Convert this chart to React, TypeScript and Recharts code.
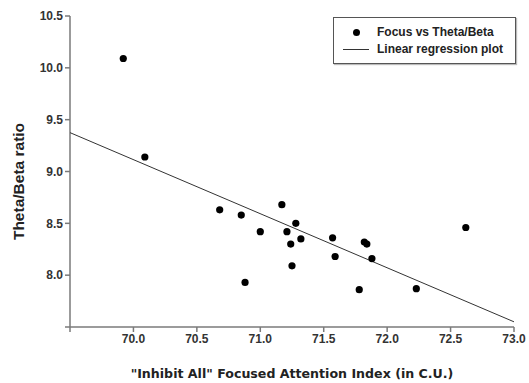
import React from 'react';
import { ScatterChart, Scatter, XAxis, YAxis, Legend, Label } from 'recharts';

// Focused attention index vs theta/beta ratio, one entry per subject
const focusIndex = [
  69.92, 70.09, 70.68, 70.85, 71.0, 70.88, 71.17, 71.28, 71.21, 71.32,
  71.24, 71.25, 71.57, 71.59, 71.82, 71.84, 71.88, 71.78, 72.23, 72.62,
];
const thetaBeta = [
  10.09, 9.14, 8.63, 8.58, 8.42, 7.93, 8.68, 8.5, 8.42, 8.35,
  8.3, 8.09, 8.36, 8.18, 8.32, 8.3, 8.16, 7.86, 7.87, 8.46,
];

// Fitted regression line end points
const fitX = [69.5, 73.0];
const fitY = [9.375, 7.55];

const xTicks = [69.5, 70.0, 70.5, 71.0, 71.5, 72.0, 72.5, 73.0];
const yTicks = [7.5, 8.0, 8.5, 9.0, 9.5, 10.0, 10.5];

const points = focusIndex.map((x, i) => ({ x, y: thetaBeta[i] }));
const fitLine = fitX.map((x, i) => ({ x, y: fitY[i] }));

const FONT = '"Liberation Sans", Arial, sans-serif';
const WIDE_FONT = '"DejaVu Sans", Verdana, sans-serif';
const AXIS_COLOR = '#7a7a7a';

const tickStyle = { fontFamily: FONT, fontSize: 12, fontWeight: 700, fill: '#333' };

const Dot = (props: any) => <circle cx={props.cx} cy={props.cy} r={3.6} fill="#000" />;

const renderLegend = () => (
  <div
    style={{
      border: '1.5px solid #555',
      boxShadow: '1px 1px 1px #bbb',
      padding: '6px 8px 5px 9px',
      fontFamily: FONT,
      fontSize: 12,
      fontWeight: 700,
      color: '#222',
      lineHeight: '17px',
      background: '#fff',
    }}
  >
    <div style={{ display: 'flex', alignItems: 'center' }}>
      <span style={{ width: 26, display: 'inline-flex', justifyContent: 'center', marginRight: 8 }}>
        <span style={{ width: 7, height: 7, borderRadius: '50%', background: '#000' }} />
      </span>
      Focus vs Theta/Beta
    </div>
    <div style={{ display: 'flex', alignItems: 'center' }}>
      <span style={{ width: 26, height: 1, background: '#333', marginRight: 8 }} />
      Linear regression plot
    </div>
  </div>
);

export default function App() {
  return (
    <div style={{ position: 'absolute', left: 0, top: 0, background: '#fff' }}>
      <ScatterChart width={529} height={383} margin={{ top: 16, right: 15, bottom: 0, left: 0 }}>
        <XAxis
          type="number"
          dataKey="x"
          domain={[69.5, 73.0]}
          ticks={xTicks}
          tickFormatter={(v: number) => (v === 69.5 ? '' : v.toFixed(1))}
          tick={tickStyle}
          stroke={AXIS_COLOR}
          strokeWidth={1.5}
          tickSize={5}
          height={56}
          allowDataOverflow
        >
          <Label
            value={'"Inhibit All" Focused Attention Index (in C.U.)'}
            position="insideBottom"
            offset={5}
            style={{ fontFamily: WIDE_FONT, fontSize: 12.6, fontWeight: 700, fill: '#222' }}
          />
        </XAxis>
        <YAxis
          type="number"
          dataKey="y"
          domain={[7.5, 10.5]}
          ticks={yTicks}
          tickFormatter={(v: number) => (v === 7.5 ? '' : v.toFixed(1))}
          tick={tickStyle}
          stroke={AXIS_COLOR}
          strokeWidth={1.5}
          tickSize={5}
          width={70}
          allowDataOverflow
        >
          <Label
            content={(p: any) => {
              const vb = p.viewBox;
              const cx = 18;
              const cy = vb.y + vb.height / 2 + 10;
              return (
                <text
                  x={cx}
                  y={cy}
                  transform={`rotate(-90 ${cx} ${cy})`}
                  textAnchor="middle"
                  dominantBaseline="central"
                  style={{ fontFamily: FONT, fontSize: 15.5, fontWeight: 700, fill: '#222' }}
                >
                  Theta/Beta ratio
                </text>
              );
            }}
          />
        </YAxis>
        <Legend
          content={renderLegend}
          layout="vertical"
          verticalAlign="middle"
          align="center"
          wrapperStyle={{ top: 17, left: 333, width: 183 }}
        />
        <Scatter
          name="Linear regression plot"
          data={fitLine}
          line={{ stroke: '#333', strokeWidth: 1 }}
          shape={() => null}
          isAnimationActive={false}
        />
        <Scatter name="Focus vs Theta/Beta" data={points} shape={Dot} isAnimationActive={false} />
      </ScatterChart>
    </div>
  );
}
